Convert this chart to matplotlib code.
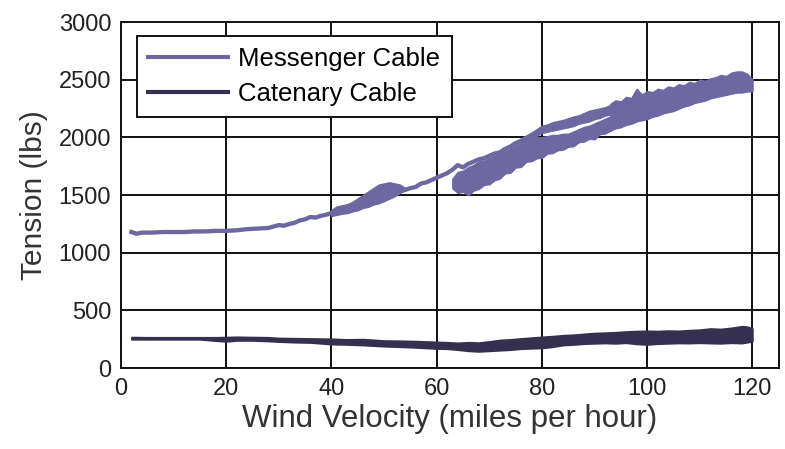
import matplotlib
matplotlib.use('Agg')
import matplotlib.pyplot as plt

# Messenger cable - single trace where the record is thin
thin_speed = [2, 3, 4, 6, 8, 10, 12, 14, 16, 18, 20, 22, 24, 26, 28, 30, 31, 32, 33, 34, 35, 36, 37, 38, 39, 40]
thin_tension = [1180, 1165, 1175, 1175, 1180, 1180, 1180, 1185, 1185, 1190, 1190, 1195, 1205, 1210, 1215,
                1240, 1235, 1250, 1260, 1280, 1290, 1310, 1305, 1320, 1330, 1345]
thin2_speed = [53, 54, 55, 56, 57, 58, 59, 60, 61, 62, 63, 64, 65, 66, 67, 68, 69, 70, 71, 72, 73, 74, 75, 76]
thin2_tension = [1560, 1545, 1560, 1570, 1600, 1610, 1630, 1650, 1670, 1690, 1720, 1760, 1740, 1770, 1790,
                 1810, 1820, 1840, 1860, 1870, 1900, 1920, 1950, 1970]

# Messenger cable - scatter bands (low / high edge of the record)
surge_speed = [40, 41, 42, 43, 44, 45, 46, 47, 48, 49, 50, 51, 52, 53, 54]
surge_low = [1320, 1330, 1340, 1345, 1360, 1370, 1390, 1400, 1420, 1430, 1450, 1470, 1490, 1520, 1540]
surge_high = [1370, 1400, 1410, 1420, 1440, 1470, 1500, 1530, 1560, 1590, 1600, 1610, 1600, 1590, 1560]

return_speed = [63, 64, 65, 66, 67, 68, 69, 70, 71, 72, 73, 74, 75, 76, 77, 78, 79, 80, 81, 82, 83, 84, 85,
                86, 87, 88, 89, 90, 91, 92, 93]
return_low = [1560, 1520, 1530, 1500, 1540, 1555, 1590, 1595, 1630, 1645, 1690, 1695, 1740, 1745, 1790,
              1795, 1820, 1825, 1860, 1865, 1890, 1895, 1920, 1925, 1960, 1965, 1990, 1985, 2030, 2035, 2060]
return_high = [1640, 1700, 1710, 1740, 1760, 1790, 1800, 1820, 1840, 1860, 1880, 1900, 1930, 1950, 1970,
               1990, 2000, 2000, 2010, 2020, 2020, 2030, 2030, 2050, 2070, 2090, 2100, 2120, 2140, 2160, 2180]

upper_speed = [76, 78, 80, 81, 82, 83, 84, 85, 86, 87, 88, 89, 90, 91, 92, 93]
upper_low = [1950, 1990, 2040, 2050, 2060, 2070, 2080, 2090, 2100, 2120, 2130, 2140, 2160, 2170, 2190, 2200]
upper_high = [1990, 2040, 2100, 2110, 2130, 2140, 2150, 2165, 2180, 2190, 2210, 2230, 2240, 2250, 2260, 2280]

top_speed = [93, 94, 95, 96, 97, 98, 99, 100, 101, 102, 103, 104, 105, 106, 107, 108, 109, 110, 111, 112,
             113, 114, 115, 116, 117, 118, 119, 120]
top_low = [2060, 2080, 2090, 2110, 2120, 2140, 2150, 2160, 2180, 2190, 2210, 2220, 2230, 2250, 2270, 2280,
           2300, 2310, 2320, 2340, 2350, 2360, 2370, 2380, 2390, 2390, 2400, 2400]
top_high = [2290, 2320, 2310, 2350, 2340, 2420, 2370, 2400, 2390, 2420, 2410, 2440, 2430, 2460, 2450, 2480,
            2470, 2500, 2490, 2510, 2520, 2540, 2530, 2560, 2570, 2570, 2550, 2500]

# Catenary cable band
cat_speed = [2, 5, 10, 15, 18, 20, 22, 25, 28, 30, 33, 36, 40, 43, 46, 50, 53, 56, 60, 62, 64, 66, 68, 70,
             72, 74, 76, 78, 80, 82, 84, 86, 88, 90, 92, 94, 96, 98, 100, 102, 104, 106, 108, 110, 112,
             114, 116, 118, 119, 120]
cat_high = [270, 268, 268, 268, 268, 270, 272, 270, 268, 262, 260, 258, 255, 250, 252, 240, 238, 235, 228,
            225, 220, 225, 222, 232, 245, 250, 258, 265, 272, 278, 286, 290, 298, 305, 308, 312, 318, 322,
            324, 322, 326, 324, 330, 334, 344, 340, 350, 364, 360, 344]
cat_low = [250, 250, 250, 250, 238, 232, 240, 240, 235, 230, 225, 222, 208, 205, 200, 190, 185, 180, 170,
           168, 160, 150, 145, 150, 155, 160, 168, 172, 175, 185, 200, 205, 212, 215, 218, 215, 220, 210,
           205, 212, 215, 218, 217, 220, 217, 215, 220, 217, 225, 232]

mess_color = '#6D67A2'
cat_color = '#35304F'

plt.rcParams['font.family'] = ['Liberation Sans', 'DejaVu Sans']

fig = plt.figure(figsize=(7.85, 4.49), dpi=100)
ax = fig.add_axes([0.154, 0.180, 0.838, 0.771])

ax.plot(thin_speed, thin_tension, color=mess_color, linewidth=3.1, label='Messenger Cable', zorder=3)
ax.plot(thin2_speed, thin2_tension, color=mess_color, linewidth=3.1, zorder=3)
for sx, lo, hi in [(surge_speed, surge_low, surge_high), (return_speed, return_low, return_high),
                   (upper_speed, upper_low, upper_high), (top_speed, top_low, top_high)]:
    ax.fill_between(sx, lo, hi, color=mess_color, linewidth=1.2, edgecolor=mess_color, zorder=3)

ax.plot([], [], color=cat_color, linewidth=3.1, label='Catenary Cable')
ax.fill_between(cat_speed, cat_low, cat_high, color=cat_color, linewidth=1.2, edgecolor=cat_color, zorder=3)

ax.set_xlim(0, 125)
ax.set_ylim(0, 3000)
ax.set_xticks([0, 20, 40, 60, 80, 100, 120])
ax.set_yticks([0, 500, 1000, 1500, 2000, 2500, 3000])
ax.tick_params(length=0, labelsize=17, colors='#222222', pad=7)
ax.grid(True, color='#111111', linewidth=1.4)
for sp in ax.spines.values():
    sp.set_linewidth(1.4)
    sp.set_color('#111111')

ax.set_xlabel('Wind Velocity (miles per hour)', fontsize=22.5, color='#333333', labelpad=3)
ax.set_ylabel('Tension (lbs)', fontsize=21.5, color='#333333', labelpad=8)

leg = ax.legend(loc='upper left', bbox_to_anchor=(0.024, 0.96), fontsize=18.5, fancybox=False,
                framealpha=1, edgecolor='#111111', handlelength=3.1, handletextpad=0.4,
                labelspacing=0.4, borderpad=0.45, borderaxespad=0)
leg.get_frame().set_linewidth(1.4)
for line in leg.get_lines():
    line.set_linewidth(3)

fig.savefig('out.png', dpi=100)
